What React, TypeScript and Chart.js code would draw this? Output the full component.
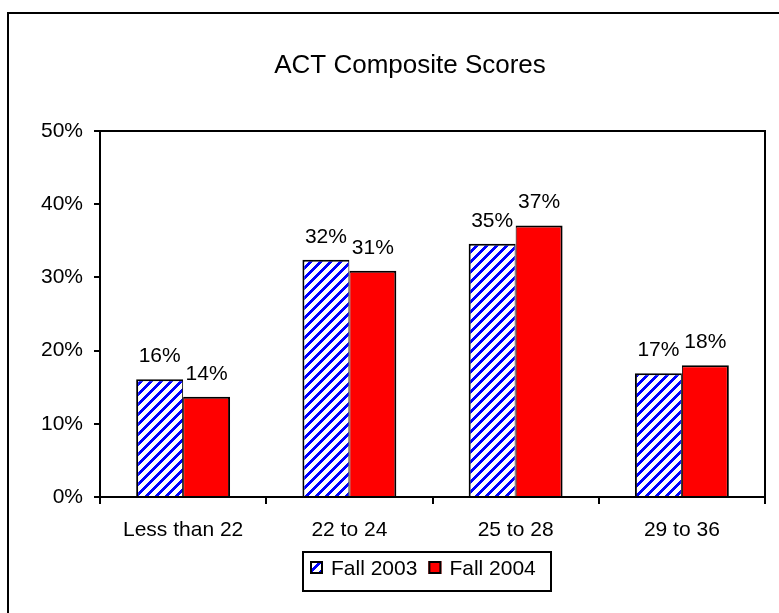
import React, { useEffect, useRef } from 'react';
import { Chart, registerables } from 'chart.js';

Chart.register(...registerables);

// ---- data ----
const chartTitle = 'ACT Composite Scores';
const categories = ['Less than 22', '22 to 24', '25 to 28', '29 to 36'];
const seriesLabels = ['Fall 2003', 'Fall 2004'];
const fall2003 = [16.1, 32.4, 34.6, 16.9];
const fall2004 = [13.7, 30.9, 37.1, 18.0];
const yTickValues = [0, 10, 20, 30, 40, 50];

// ---- style / layout ----
const FONT = "'Liberation Sans', Arial, Helvetica, sans-serif";
const CANVAS_W = 779;
const CANVAS_H = 613;
// the original chart object is wider than the visible picture; its title is centred on it
const TITLE_SPAN = { left: 0, right: 820 };

function makeStripePattern(ctx: CanvasRenderingContext2D): CanvasPattern | string {
  const n = 10;
  const tile = document.createElement('canvas');
  tile.width = n;
  tile.height = n;
  const t = tile.getContext('2d');
  if (!t) return '#0000ff';
  const img = t.createImageData(n, n);
  for (let y = 0; y < n; y++) {
    for (let x = 0; x < n; x++) {
      const i = (y * n + x) * 4;
      const blue = (x + y) % n < 4;
      img.data[i] = blue ? 0 : 255;
      img.data[i + 1] = blue ? 0 : 255;
      img.data[i + 2] = 255;
      img.data[i + 3] = 255;
    }
  }
  t.putImageData(img, 0, 0);
  return ctx.createPattern(tile, 'repeat') || '#0000ff';
}

const decorPlugin = {
  id: 'decor',
  afterLayout(chart: any) {
    if (chart.titleBlock) {
      chart.titleBlock.left = TITLE_SPAN.left;
      chart.titleBlock.right = TITLE_SPAN.right;
    }
  },
  afterDraw(chart: any) {
    const { ctx, chartArea: a } = chart;
    ctx.save();
    ctx.strokeStyle = '#000';
    ctx.lineWidth = 2;
    // outer chart frame (extends beyond the visible page)
    ctx.strokeRect(8, 13, 806, 660);
    // plot area top & right edges
    ctx.beginPath();
    ctx.moveTo(a.left, a.top);
    ctx.lineTo(a.right, a.top);
    ctx.lineTo(a.right, a.bottom);
    ctx.stroke();

    // data labels
    ctx.fillStyle = '#000';
    ctx.font = `21px ${FONT}`;
    ctx.textAlign = 'center';
    ctx.textBaseline = 'alphabetic';
    chart.data.datasets.forEach((ds: any, di: number) => {
      const meta = chart.getDatasetMeta(di);
      meta.data.forEach((bar: any, j: number) => {
        const v = ds.data[j] as number;
        ctx.fillText(`${Math.round(v)}%`, bar.x, bar.y - 17);
      });
    });

    // legend
    const boxL = 303, boxT = 552, boxR = 551, boxB = 591;
    ctx.lineWidth = 2;
    ctx.strokeRect(boxL, boxT, boxR - boxL, boxB - boxT);
    let x = 310;
    const sw = 13;
    const swTop = 561;
    ctx.textAlign = 'left';
    ctx.font = `21px ${FONT}`;
    chart.data.datasets.forEach((ds: any) => {
      ctx.fillStyle = ds.backgroundColor;
      ctx.fillRect(x, swTop, sw, sw);
      ctx.strokeStyle = '#000';
      ctx.lineWidth = 2;
      ctx.strokeRect(x + 1, swTop + 1, sw - 2, sw - 2);
      ctx.fillStyle = '#000';
      const tx = x + sw + 8;
      ctx.fillText(ds.label, tx, 575);
      x = tx + ctx.measureText(ds.label).width + 11;
    });
    ctx.restore();
  },
};

export default function App() {
  const canvasRef = useRef<HTMLCanvasElement | null>(null);

  useEffect(() => {
    const canvas = canvasRef.current;
    if (!canvas) return;
    const ctx = canvas.getContext('2d');
    if (!ctx) return;
    const stripes = makeStripePattern(ctx);

    const chart = new Chart(ctx, {
      type: 'bar',
      data: {
        labels: categories,
        datasets: [
          {
            label: seriesLabels[0],
            data: fall2003,
            backgroundColor: stripes as any,
            borderColor: '#000',
            borderWidth: { top: 2, left: 2, right: 1, bottom: 0 } as any,
            categoryPercentage: 0.565,
            barPercentage: 1,
          },
          {
            label: seriesLabels[1],
            data: fall2004,
            backgroundColor: '#ff0000',
            borderColor: '#000',
            borderWidth: { top: 2, left: 1, right: 2, bottom: 0 } as any,
            categoryPercentage: 0.565,
            barPercentage: 1,
          },
        ],
      },
      options: {
        responsive: false,
        animation: false,
        devicePixelRatio: 1,
        layout: { padding: { left: 0, right: 14, top: 0, bottom: 56 } },
        plugins: {
          legend: { display: false },
          tooltip: { enabled: false },
          title: {
            display: true,
            text: chartTitle,
            color: '#000',
            font: { family: FONT, size: 26, weight: 'normal' },
            padding: { top: 50, bottom: 49.8 },
          },
        },
        scales: {
          x: {
            grid: {
              offset: true,
              drawOnChartArea: false,
              drawTicks: true,
              tickLength: 7,
              color: '#000',
              lineWidth: 2,
            },
            border: { display: true, color: '#000', width: 2 },
            ticks: {
              color: '#000',
              font: { family: FONT, size: 21 },
              padding: 14,
              maxRotation: 0,
              autoSkip: false,
            },
            afterFit: (s: any) => {
              s.height = 60;
            },
          },
          y: {
            min: 0,
            max: 50,
            afterBuildTicks: (s: any) => {
              s.ticks = yTickValues.map((v) => ({ value: v }));
            },
            grid: {
              drawOnChartArea: false,
              drawTicks: true,
              tickLength: 6,
              color: '#000',
              lineWidth: 2,
            },
            border: { display: true, color: '#000', width: 2 },
            ticks: {
              color: '#000',
              font: { family: FONT, size: 21 },
              padding: 11,
              callback: (v: any) => `${v}%`,
            },
            afterFit: (s: any) => {
              s.width = 100;
            },
          },
        },
      },
      plugins: [decorPlugin],
    });
    return () => chart.destroy();
  }, []);

  return (
    <div
      style={{
        position: 'absolute',
        left: 0,
        top: 0,
        width: CANVAS_W,
        height: CANVAS_H,
        overflow: 'hidden',
        background: '#fff',
      }}
    >
      <canvas
        ref={canvasRef}
        width={CANVAS_W}
        height={CANVAS_H}
        style={{ display: 'block', width: CANVAS_W, height: CANVAS_H }}
      />
    </div>
  );
}
